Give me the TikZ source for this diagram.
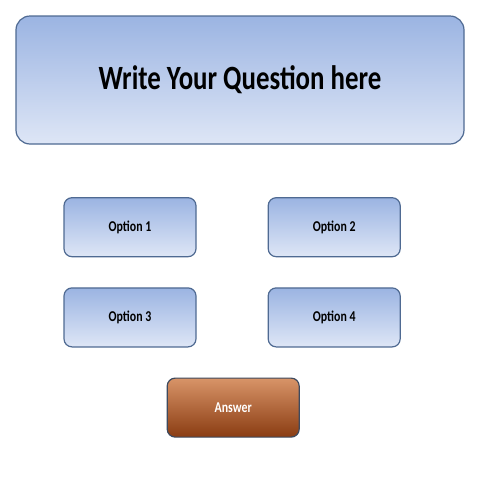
\documentclass[tikz,border=0pt]{standalone}
\usepackage{fontspec}
\setmainfont{Carlito}
\newfontfamily\narrowfont[FakeStretch=0.79]{Carlito}
\usepackage{tikz}
\usetikzlibrary{positioning}

\definecolor{boxtop}{HTML}{9BB4E2}
\definecolor{boxbot}{HTML}{DEE6F6}
\definecolor{boxline}{HTML}{4F6A92}
\definecolor{anstop}{HTML}{D89468}
\definecolor{ansbot}{HTML}{8A3C12}
\definecolor{ansline}{HTML}{3E4A5E}

\begin{document}
\begin{tikzpicture}[
    question/.style={rectangle, draw=boxline, line width=1.2pt, rounded corners=14pt, top color=boxtop, bottom color=boxbot, minimum width=448pt, minimum height=128pt, font=\narrowfont\fontsize{34}{40}\selectfont\bfseries},
    option/.style={rectangle, draw=boxline, line width=1.2pt, rounded corners=8pt, top color=boxtop, bottom color=boxbot, minimum width=132pt, minimum height=59pt, font=\narrowfont\fontsize{15}{18}\selectfont\bfseries},
    answer/.style={option, draw=ansline, top color=anstop, bottom color=ansbot, text=white}
]
\useasboundingbox (0,0) rectangle (480pt,-480pt);

\node[question] (quest) at (240pt,-80pt) {Write Your Question here};

\node[option, below right=52.5pt and 48pt of quest.south west] (opt1) {Option 1};
\node[option, right=71pt of opt1] (opt2) {Option 2};
\node[option, below=30pt of opt1] (opt3) {Option 3};
\node[option, right=71pt of opt3] (opt4) {Option 4};

\node[answer, below right=30pt and -30pt of opt3.south east] (ans) {Answer};

\end{tikzpicture}
\end{document}
